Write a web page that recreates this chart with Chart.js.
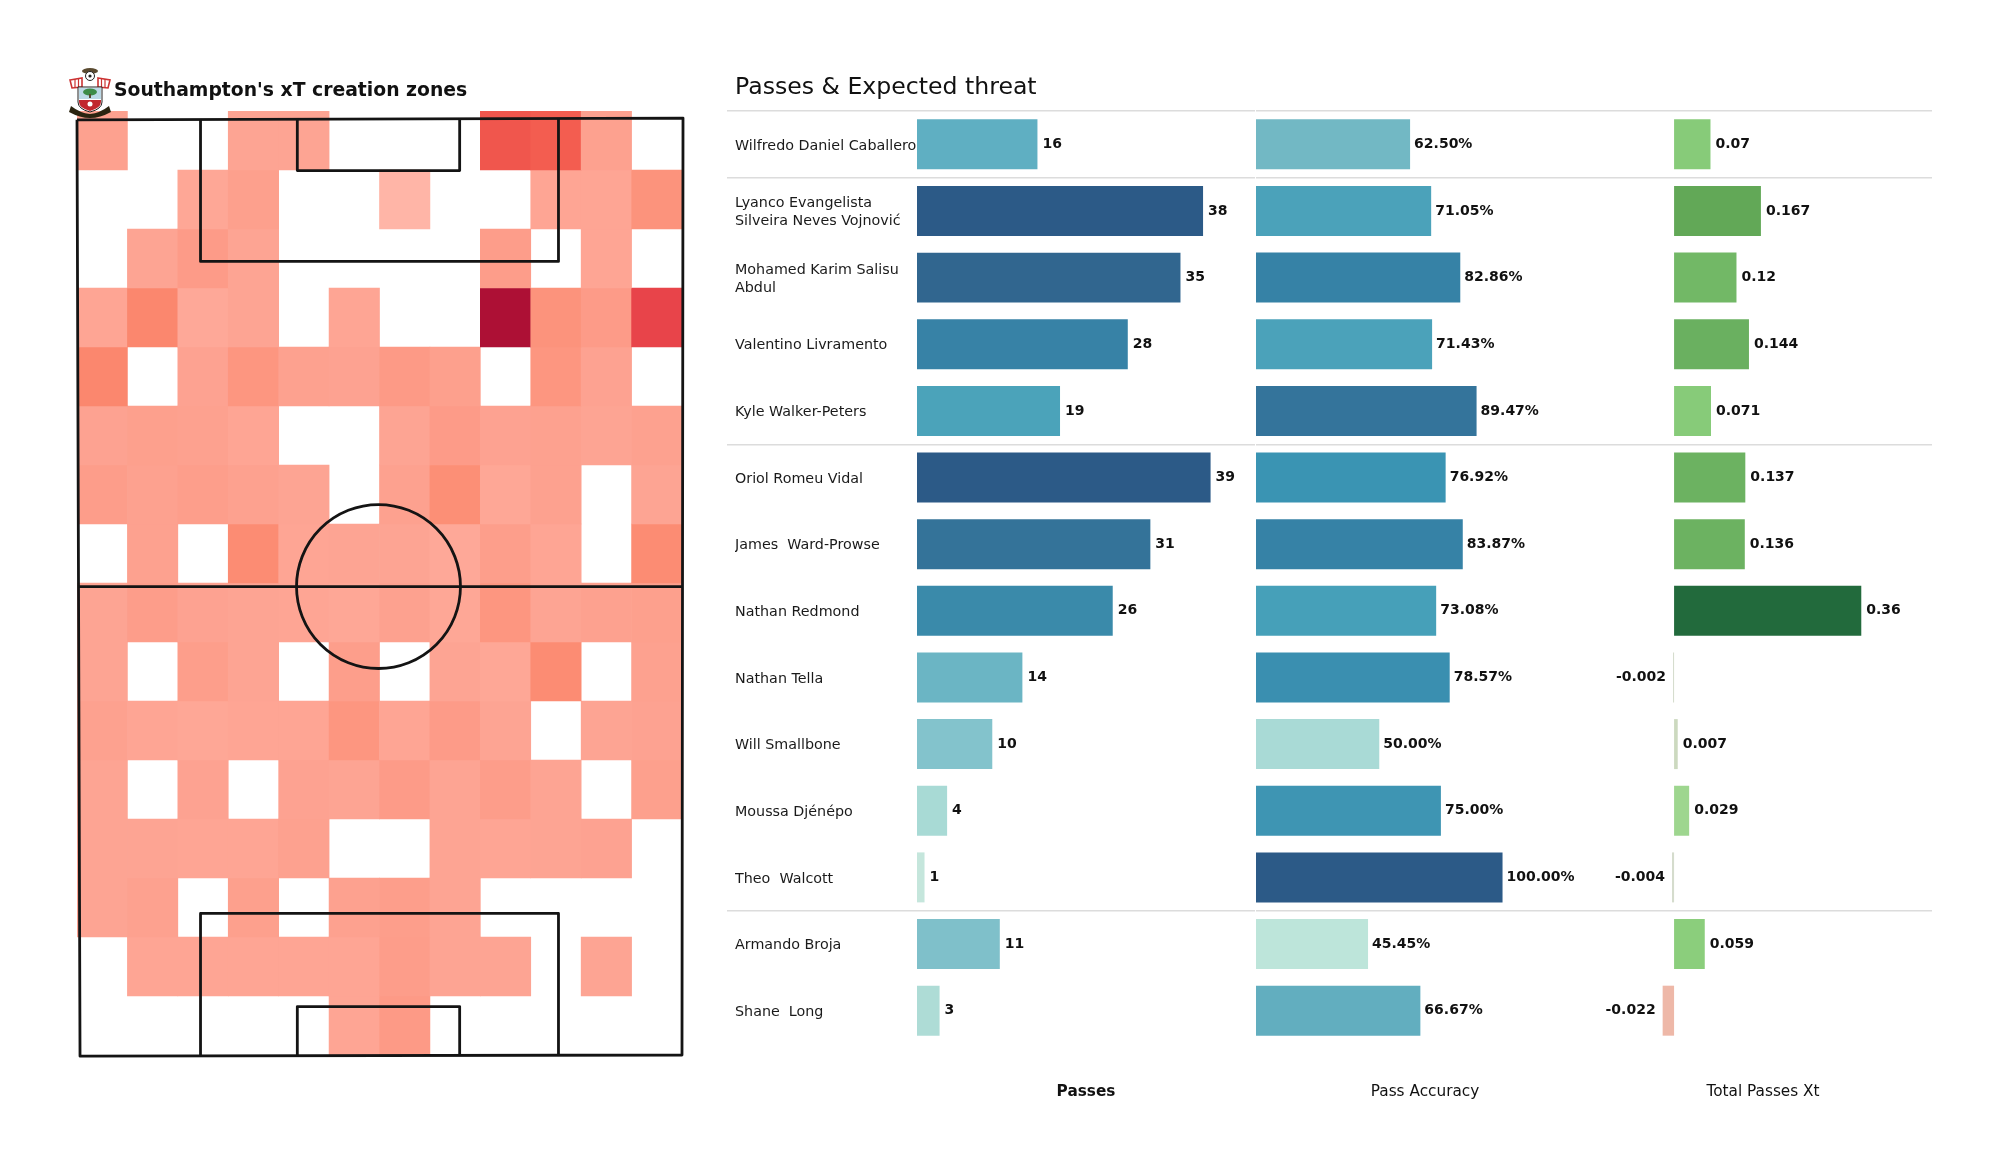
<!DOCTYPE html>
<html>
<head>
<meta charset="utf-8">
<title>Southampton xT</title>
<script src="https://cdn.jsdelivr.net/npm/chart.js@4/dist/chart.umd.min.js"></script>
<style>
    html, body { margin: 0; padding: 0; background: #fff; }
    body { width: 2000px; height: 1175px; position: relative; overflow: hidden; font-family: "DejaVu Sans", sans-serif; }
    canvas { position: absolute; top: 0; }
    #heatTitle { position: absolute; left: 114px; top: 78px; font-weight: bold; font-size: 18.8px; line-height: 24px; color: #111; white-space: nowrap; }
    #crest { position: absolute; left: 68px; top: 66px; width: 44px; height: 52px; }
</style>
</head>
<body>
<canvas id="heatChart" width="727" height="1175" style="left:0"></canvas>
<canvas id="passesChart" width="528" height="1101" style="left:727px"></canvas>
<canvas id="accuracyChart" width="338" height="1101" style="left:1256px"></canvas>
<canvas id="xtChart" width="338" height="1101" style="left:1594px"></canvas>
<svg id="crest" viewBox="0 0 44 52">
    <ellipse cx="22" cy="5" rx="8" ry="3" fill="#5a4a30"/>
    <circle cx="22" cy="10" r="4.5" fill="#fff" stroke="#222"/>
    <circle cx="22" cy="10" r="1.6" fill="#222"/>
    <path d="M2 14 L14 12 L14 21 L4 22 Z M30 12 L42 14 L40 22 L30 21 Z" fill="#fff" stroke="#c33" stroke-width="1.6"/>
    <path d="M7 13 V22 M10.5 12.5 V21 M33.5 12.5 V21 M37 13 V22" stroke="#c33" stroke-width="1.2"/>
    <path d="M10 21 H34 V36 Q34 43 22 46 Q10 43 10 36 Z" fill="#fff" stroke="#222" stroke-width="1"/>
    <rect x="11" y="22" width="22" height="11" fill="#bcd9e6"/>
    <ellipse cx="22" cy="26" rx="7" ry="3.5" fill="#3d8b47"/>
    <rect x="21" y="28" width="2" height="4" fill="#5a4a30"/>
    <path d="M11 34 H33 V36 Q33 42 22 45 Q11 42 11 36 Z" fill="#c1272d"/>
    <circle cx="22" cy="38" r="2.5" fill="#fff"/>
    <path d="M3 40 Q12 47 22 48 Q32 47 41 40 L43 46 Q32 52 22 52 Q12 52 1 46 Z" fill="#2a2410"/>
</svg>
<div id="heatTitle">Southampton's xT creation zones</div>
<script>
// dados da tabela
const players = ['Wilfredo Daniel Caballero', ['Lyanco Evangelista', 'Silveira Neves Vojnović'], ['Mohamed Karim Salisu', 'Abdul'],
    'Valentino Livramento', 'Kyle Walker-Peters', 'Oriol Romeu Vidal', 'James  Ward-Prowse', 'Nathan Redmond', 'Nathan Tella',
    'Will Smallbone', 'Moussa Djénépo', 'Theo  Walcott', 'Armando Broja', 'Shane  Long'];
const passes = [16, 38, 35, 28, 19, 39, 31, 26, 14, 10, 4, 1, 11, 3];
const accuracy = [62.5, 71.05, 82.86, 71.43, 89.47, 76.92, 83.87, 73.08, 78.57, 50, 75, 100, 45.45, 66.67];
const totalXt = [0.07, 0.167, 0.12, 0.144, 0.071, 0.137, 0.136, 0.36, -0.002, 0.007, 0.029, -0.004, 0.059, -0.022];
const groupEnds = [-1, 0, 4, 11, 13];

// xT por zona, uma linha do campo em cada array
const zone00 = [.20, 0, 0, .18, .18, 0, 0, 0, .62, .58, .20, 0];
const zone01 = [0, 0, .16, .21, 0, 0, .08, 0, 0, .17, .17, .28];
const zone02 = [0, .18, .24, .18, 0, 0, 0, 0, .23, 0, .17, 0];
const zone03 = [.17, .33, .15, .18, 0, .17, 0, 0, 1, .28, .24, .70];
const zone04 = [.33, 0, .19, .27, .20, .19, .25, .21, 0, .27, .19, 0];
const zone05 = [.19, .21, .20, .17, 0, 0, .18, .24, .19, .20, .18, .20];
const zone06 = [.23, .20, .22, .20, .18, 0, .20, .30, .16, .20, 0, .18];
const zone07 = [0, .20, 0, .31, .17, .18, .18, .15, .22, .17, 0, .31];
const zone08 = [.18, .23, .19, .18, .17, .16, .20, .16, .27, .18, .20, .21];
const zone09 = [.18, 0, .22, .18, 0, .22, 0, .18, .16, .31, 0, .20];
const zone10 = [.20, .17, .16, .17, .17, .27, .17, .24, .18, 0, .18, .19];
const zone11 = [.18, 0, .19, 0, .19, .18, .24, .18, .23, .18, 0, .21];
const zone12 = [.18, .18, .17, .17, .20, 0, 0, .18, .17, .18, .19, 0];
const zone13 = [.18, .20, 0, .21, 0, .20, .22, .18, 0, 0, 0, 0];
const zone14 = [0, .17, .17, .17, .17, .17, .23, .18, .18, 0, .18, 0];
const zone15 = [0, 0, 0, 0, 0, .17, .25, 0, 0, 0, 0, 0];
const zones = [zone00, zone01, zone02, zone03, zone04, zone05, zone06, zone07, zone08, zone09, zone10, zone11, zone12, zone13, zone14, zone15];

// cores
const passColors = ['#5fafc2', '#2c5a87', '#31668f', '#3782a6', '#4ba3ba', '#2c5a87', '#347399', '#3a8aaa', '#6bb5c4', '#83c3cc', '#a8dad5', '#c5e6dc', '#7fc0ca', '#aedcd6'];
const accuracyColors = ['#72b8c4', '#4ba2ba', '#3682a6', '#4ba2ba', '#34749b', '#3a94b3', '#3682a6', '#46a0b9', '#3a8fb0', '#a9dad6', '#3e95b3', '#2c5a87', '#bde5da', '#62aebf'];
const xtColors = ['#87cb79', '#62a857', '#72b866', '#6ab060', '#87cb79', '#6cb261', '#6cb261', '#226a3c', '#d5dccd', '#ccd9bf', '#9ed68f', '#d5dccd', '#8bce7c', '#eeb8a8'];
const heatStops = [[.08, [255, 181, 167]], [.15, [254, 168, 152]], [.20, [253, 161, 143]], [.25, [253, 154, 134]], [.30, [252, 143, 118]], [.35, [251, 129, 104]], [.60, [242, 90, 78]], [.70, [232, 68, 74]], [1, [173, 16, 53]]];

function heatColor(v) {
    for (let i = 1; i < heatStops.length; i++) {
        if (v <= heatStops[i][0]) {
            const a = heatStops[i - 1], b = heatStops[i];
            const t = (v - a[0]) / (b[0] - a[0]);
            const c = a[1].map((n, k) => Math.round(n + (b[1][k] - n) * t));
            return `rgb(${c[0]},${c[1]},${c[2]})`;
        }
    }
    return 'rgb(173,16,53)';
}

// linhas do campo, em unidades de celula do mapa
const pitchOuter = [[0, .15], [12.02, .12], [12, 16], [.06, 16.02], [0, .15]];
const pitchMiddle = [[.03, 8.06], [12, 8.06]];
const boxTop = [[2.45, .14], [2.45, 2.55], [9.55, 2.55], [9.55, .13]];
const goalTop = [[4.37, .14], [4.37, 1.01], [7.59, 1.01], [7.59, .13]];
const boxBottom = [[2.45, 16.01], [2.45, 13.6], [9.55, 13.6], [9.55, 16]];
const goalBottom = [[4.37, 16.01], [4.37, 15.18], [7.59, 15.18], [7.59, 16]];
const centerSpot = [5.98, 8.06];
const centerRadius = 1.626;

const pitchLines = {
    id: 'pitchLines',
    afterDatasetsDraw(chart) {
        const { ctx, scales: { x, y } } = chart;
        ctx.save();
        ctx.strokeStyle = '#141414';
        ctx.lineWidth = 2.8;
        ctx.lineJoin = 'round';
        [pitchOuter, pitchMiddle, boxTop, goalTop, boxBottom, goalBottom].forEach(line => {
            ctx.beginPath();
            line.forEach((p, i) => {
                const px = x.getPixelForValue(p[0]), py = y.getPixelForValue(p[1]);
                if (i === 0) ctx.moveTo(px, py); else ctx.lineTo(px, py);
            });
            ctx.stroke();
        });
        const cx = x.getPixelForValue(centerSpot[0]);
        const r = x.getPixelForValue(centerSpot[0] + centerRadius) - cx;
        ctx.beginPath();
        ctx.arc(cx, y.getPixelForValue(centerSpot[1]), r, 0, Math.PI * 2);
        ctx.stroke();
        ctx.restore();
    }
};

new Chart(document.getElementById('heatChart'), {
    type: 'bar',
    data: {
        datasets: zones.map((row, r) => ({
            data: row.map((v, c) => ({ x: c + 0.5, y: [r, r + 1], v: v })).filter(d => d.v > 0),
            backgroundColor: ctx => heatColor(ctx.raw.v),
            barPercentage: 1,
            categoryPercentage: 1,
            grouped: false
        }))
    },
    options: {
        responsive: false,
        animation: false,
        layout: { padding: { left: 77, right: 45, top: 111, bottom: 120 } },
        plugins: { legend: { display: false }, tooltip: { enabled: false } },
        scales: {
            x: { type: 'linear', min: 0, max: 12, offset: false, display: false },
            y: { type: 'linear', min: 0, max: 16, reverse: true, display: false }
        }
    },
    plugins: [pitchLines]
});

const valueLabels = {
    id: 'valueLabels',
    afterDatasetsDraw(chart) {
        const { ctx } = chart;
        const ds = chart.data.datasets[0];
        const isAcc = ds.label === 'acc';
        ctx.save();
        ctx.font = 'bold 14px "DejaVu Sans"';
        ctx.fillStyle = '#111';
        ctx.textBaseline = 'middle';
        chart.getDatasetMeta(0).data.forEach((bar, i) => {
            const v = ds.data[i];
            ctx.textAlign = v < 0 ? 'right' : 'left';
            ctx.fillText(isAcc ? v.toFixed(2) + '%' : String(v), bar.x + (v < 0 ? -7 : isAcc ? 4 : 5), bar.y);
        });
        ctx.restore();
    }
};

function barChart(id, key, values, colors, axisName, bold, min, max, withLabels) {
    const options = {
        responsive: false,
        animation: false,
        indexAxis: 'y',
        layout: { padding: { top: withLabels ? 0 : 111, left: withLabels ? 8 : 0 } },
        plugins: {
            legend: { display: false },
            tooltip: { enabled: false },
            title: withLabels ? {
                display: true,
                text: 'Passes & Expected threat',
                align: 'start',
                color: '#111',
                font: { family: '"DejaVu Sans"', size: 23.6, weight: 'normal', lineHeight: 1.2 },
                padding: { top: 73.3, bottom: 9.4 }
            } : { display: false }
        },
        scales: {
            x: {
                min: min,
                max: max,
                grid: { display: false },
                border: { display: false },
                ticks: { display: false },
                title: {
                    display: true,
                    text: axisName,
                    color: '#111',
                    font: { family: '"DejaVu Sans"', size: 15.3, weight: bold ? 'bold' : 'normal' },
                    padding: { top: 0, bottom: 0 }
                },
                afterFit: s => { s.height = 57; }
            },
            y: {
                grid: {
                    offset: true,
                    drawTicks: withLabels,
                    tickLength: 190,
                    lineWidth: 1.4,
                    color: c => groupEnds.includes(c.index - 1) ? '#dcdcdc' : 'rgba(0,0,0,0)',
                    tickColor: c => groupEnds.includes(c.index - 1) ? '#dcdcdc' : 'rgba(0,0,0,0)'
                },
                border: { display: false },
                ticks: {
                    display: withLabels,
                    autoSkip: false,
                    crossAlign: 'far',
                    labelOffset: 1.5,
                    color: '#1a1a1a',
                    padding: 0,
                    font: { family: '"DejaVu Sans"', size: 14.3, lineHeight: 1.27 }
                },
                afterFit: s => { s.width = withLabels ? 182 : 0; }
            }
        }
    };
    return new Chart(document.getElementById(id), {
        type: 'bar',
        data: {
            labels: players,
            datasets: [{
                label: key,
                data: values,
                backgroundColor: colors,
                categoryPercentage: 1,
                barPercentage: 0.75
            }]
        },
        options: options,
        plugins: [valueLabels]
    });
}

barChart('passesChart', 'passes', passes, passColors, 'Passes', true, 0, 44.9, true);
barChart('accuracyChart', 'acc', accuracy, accuracyColors, 'Pass Accuracy', false, 0, 137.1, false);
barChart('xtChart', 'xt', totalXt, xtColors, 'Total Passes Xt', false, -0.154, 0.496, false);
</script>
</body>
</html>
